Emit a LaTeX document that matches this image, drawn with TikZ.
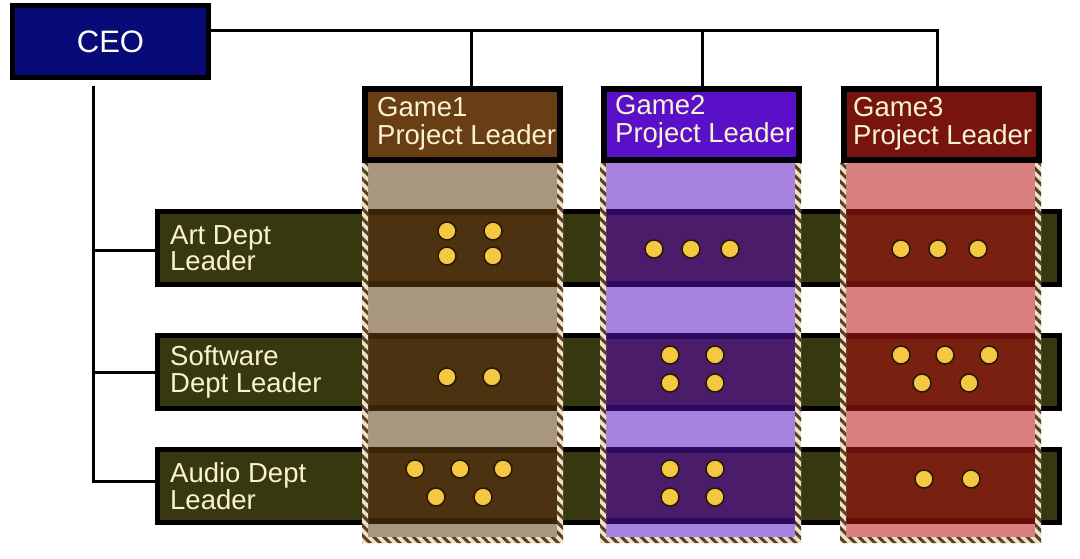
\documentclass[tikz,border=0pt]{standalone}
\usepackage{fontspec}
\setmainfont{Liberation Sans}
\usetikzlibrary{patterns.meta}
\definecolor{ceoblue}{RGB}{8,10,120}
\definecolor{olive}{RGB}{56,56,16}
\definecolor{cream}{RGB}{248,243,208}
\definecolor{hatchc}{RGB}{88,62,38}
\definecolor{hatchbg}{RGB}{238,226,196}
\definecolor{gAhead}{RGB}{106,62,20}
\definecolor{gAlight}{RGB}{168,150,126}
\definecolor{gAdark}{RGB}{76,50,16}
\definecolor{gAedge}{RGB}{58,36,8}
\definecolor{gBhead}{RGB}{90,16,200}
\definecolor{gBlight}{RGB}{168,130,224}
\definecolor{gBdark}{RGB}{74,28,106}
\definecolor{gBedge}{RGB}{44,10,96}
\definecolor{gChead}{RGB}{120,20,16}
\definecolor{gClight}{RGB}{216,128,128}
\definecolor{gCdark}{RGB}{122,32,16}
\definecolor{gCedge}{RGB}{104,14,10}
\definecolor{dotfill}{RGB}{245,200,66}
\definecolor{dotline}{RGB}{40,24,4}
\begin{document}
\begin{tikzpicture}[x=1pt,y=-1pt,
  conn/.style={draw=black,line width=3pt},
  ceobox/.style={draw=black,line width=5pt,fill=ceoblue,minimum width=196pt,minimum height=72pt,inner sep=0pt,text=white,font=\fontsize{31}{32}\selectfont},
  deptbar/.style={draw=black,line width=5pt,fill=olive,minimum width=902pt,minimum height=73pt,inner sep=0pt},
  headbox/.style={draw=black,line width=6pt,minimum width=195pt,minimum height=71pt,inner sep=0pt},
  headtext/.style={anchor=north west,align=left,inner sep=0pt,text=cream,font=\fontsize{27.5}{28}\selectfont},
  depttext/.style={anchor=west,align=left,inner sep=0pt,text=cream,font=\fontsize{27.5}{26.5}\selectfont},
  member/.style={fill=dotfill,draw=dotline,line width=1.5pt},
  hatch/.style={pattern={Lines[angle=-45,distance=7pt,line width=3pt]},pattern color=hatchc}
]
\useasboundingbox (0,0) rectangle (1080,559);
\fill[white] (0,0) rectangle (1080,559);

% CEO
\node[ceobox] (ceo) at (110.5,41.5) {CEO};

% junction coordinates
\coordinate (j1) at (471,31);
\coordinate (j2) at (702,31);
\coordinate (j3) at (937,31);
\coordinate (vtop) at (93,86);

% department bars
\node[deptbar] (art) at (608.5,248) {};
\node[deptbar] (sw) at (608.5,372) {};
\node[deptbar] (aud) at (608.5,485.5) {};

% connectors
\draw[conn] (ceo.east |- j1) -- (j3) -- ++(0,55);
\draw[conn] (j1) -- ++(0,55);
\draw[conn] (j2) -- ++(0,55);
\draw[conn] (vtop) -- (93,482.5);
\draw[conn] (93,250) -- (art.west |- 0,250);
\draw[conn] (93,372) -- (sw.west |- 0,372);
\draw[conn] (91.5,481) -- (aud.west |- 0,481);

% columns
\foreach \x/\c in {362/A,600/B,840/C}{
  \fill[g\c light] (\x,163) rectangle ++(201,380);
  \foreach \t/\b in {209/287,333/411,447/524}{
    \fill[g\c dark] (\x,\t) rectangle (\x+201,\b);
    \fill[g\c edge] (\x,\t) rectangle (\x+201,\t+6);
    \fill[g\c edge] (\x,\b-6) rectangle (\x+201,\b);
  }
  \fill[hatchbg,even odd rule] (\x,163) rectangle (\x+201,543) (\x+6,163) rectangle (\x+195,537);
  \fill[hatch,even odd rule] (\x,163) rectangle (\x+201,543) (\x+6,163) rectangle (\x+195,537);
}

% header boxes
\node[headbox,fill=gAhead] (g1) at (462.5,124.5) {};
\node[headbox,fill=gBhead] (g2) at (701,124.5) {};
\node[headbox,fill=gChead] (g3) at (941,124.5) {};
\node[headtext] (t1) at (377,97) {Game1\\Project Leader};
\node[headtext] (t2) at (615,95) {Game2\\Project Leader};
\node[headtext] (t3) at (853,97) {Game3\\Project Leader};

% dept labels
\node[depttext] (ta) at (170,248) {Art Dept\\Leader};
\node[depttext] (ts) at (170,372) {Software\\Dept Leader};
\node[depttext] (tu) at (170,486) {Audio Dept\\Leader};

% members
\foreach \p in {(447,231),(493,231),(447,256),(493,256),
  (654,249),(691,249),(730,249),
  (901,249),(938,249),(978,249),
  (447,377),(492,377),
  (670,355),(715,355),(670,383),(715,383),
  (901,355),(945,355),(989,355),(922,383),(969,383),
  (415,469),(460,469),(503,469),(436,497),(483,497),
  (670,469),(715,469),(670,497),(715,497),
  (924,479),(971,479)}
  \path[member] \p circle[radius=9pt];
\end{tikzpicture}
\end{document}
